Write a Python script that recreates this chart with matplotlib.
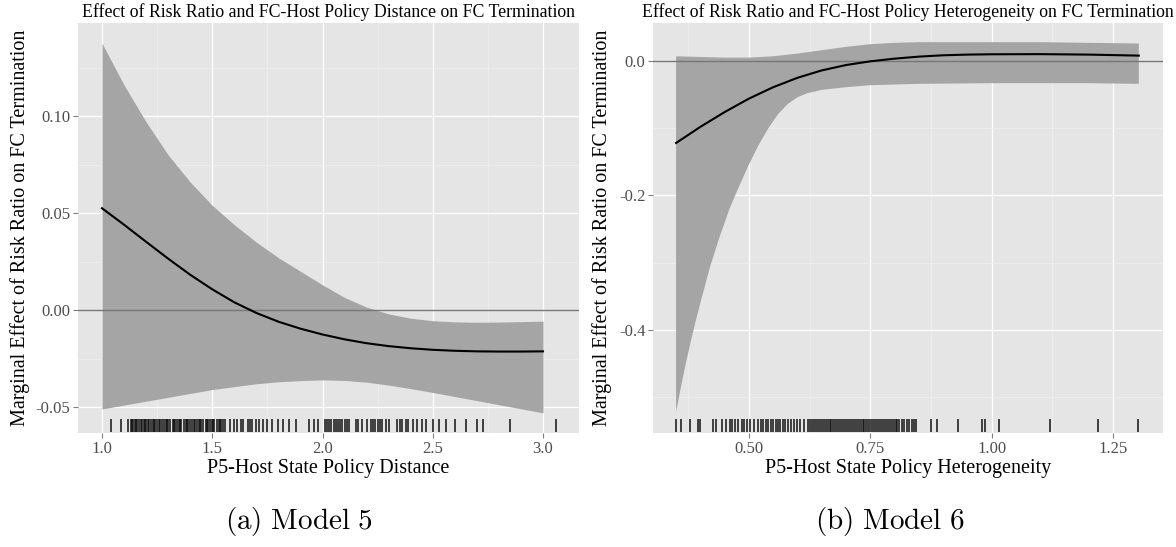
import numpy as np
import matplotlib
matplotlib.use('Agg')
import matplotlib.pyplot as plt
from matplotlib.ticker import FixedLocator

plt.rcParams['font.family'] = ['Liberation Serif', 'DejaVu Serif']
plt.rcParams['axes.unicode_minus'] = False

# ---- panel (a): Model 5, policy distance ----
dist_x = [1.0, 1.1, 1.2, 1.3, 1.4, 1.5, 1.6, 1.7, 1.8, 1.9, 2.0, 2.1,
          2.2, 2.3, 2.4, 2.5, 2.6, 2.7, 2.8, 2.9, 3.0]
dist_est = [0.0525, 0.0440, 0.0352, 0.0265, 0.0182, 0.0107, 0.0040, -0.0015,
            -0.0060, -0.0096, -0.0126, -0.0151, -0.0171, -0.0186, -0.0197,
            -0.0205, -0.0210, -0.0213, -0.0214, -0.0214, -0.0213]
dist_hi = [0.1376, 0.116, 0.097, 0.080, 0.066, 0.054, 0.044, 0.035, 0.027,
           0.020, 0.013, 0.0065, 0.0015, -0.002, -0.0042, -0.0055, -0.0061,
           -0.0063, -0.0062, -0.006, -0.0057]
dist_lo = [-0.051, -0.049, -0.047, -0.045, -0.043, -0.041, -0.0395, -0.038,
           -0.037, -0.0364, -0.036, -0.0363, -0.0372, -0.0387, -0.0405,
           -0.0425, -0.0446, -0.0467, -0.0488, -0.0509, -0.053]
dist_rug = [1.04, 1.085, 1.12, 1.13, 1.135, 1.14, 1.15, 1.155, 1.16, 1.17,
            1.175, 1.18, 1.19, 1.195, 1.2, 1.21, 1.215, 1.22, 1.23, 1.235,
            1.24, 1.25, 1.26, 1.265, 1.27, 1.28, 1.29, 1.295, 1.30, 1.31,
            1.32, 1.325, 1.33, 1.34, 1.35, 1.355, 1.36, 1.37, 1.38, 1.385,
            1.39, 1.40, 1.41, 1.415, 1.42, 1.43, 1.44, 1.445, 1.45, 1.46,
            1.47, 1.475, 1.48, 1.49, 1.50, 1.505, 1.51, 1.52, 1.53, 1.535,
            1.54, 1.55, 1.56, 1.58, 1.60, 1.61, 1.63, 1.64, 1.66, 1.67, 1.68,
            1.70, 1.71, 1.73, 1.75, 1.77, 1.80, 1.82, 1.85, 1.88, 1.94, 1.96,
            1.98, 2.01, 2.02, 2.03, 2.04, 2.05, 2.06, 2.07, 2.08, 2.09, 2.10,
            2.11, 2.12, 2.15, 2.16, 2.18, 2.20, 2.22, 2.23, 2.24, 2.25, 2.26,
            2.27, 2.29, 2.30, 2.34, 2.35, 2.36, 2.38, 2.39, 2.41, 2.43, 2.45,
            2.47, 2.50, 2.53, 2.56, 2.60, 2.65, 2.70, 2.73, 2.85, 3.06]

# ---- panel (b): Model 6, policy heterogeneity ----
het_x = [0.35, 0.40, 0.45, 0.50, 0.55, 0.60, 0.65, 0.70, 0.75, 0.80, 0.85,
         0.90, 0.95, 1.00, 1.10, 1.20, 1.303]
het_est = [-0.122, -0.098, -0.076, -0.056, -0.039, -0.025, -0.014, -0.006,
           -0.0005, 0.0035, 0.0065, 0.0085, 0.0095, 0.010, 0.0102, 0.0095,
           0.0080]
het_hi = [0.007, 0.006, 0.005, 0.005, 0.007, 0.011, 0.016, 0.021, 0.025,
          0.027, 0.028, 0.028, 0.028, 0.028, 0.028, 0.027, 0.026]
het_lo_x = [0.35, 0.36, 0.37, 0.38, 0.39, 0.40, 0.42, 0.44, 0.46, 0.48, 0.50,
            0.52, 0.54, 0.56, 0.58, 0.60, 0.62, 0.65, 0.70, 0.75, 0.85, 1.0,
            1.2, 1.303]
het_lo = [-0.522, -0.485, -0.450, -0.418, -0.388, -0.360, -0.306, -0.261,
          -0.220, -0.186, -0.154, -0.125, -0.100, -0.079, -0.064, -0.054,
          -0.048, -0.043, -0.039, -0.036, -0.034, -0.033, -0.033, -0.034]
het_rug = [0.35, 0.36, 0.378, 0.395, 0.399, 0.425, 0.433, 0.445, 0.452, 0.46,
           0.466, 0.472, 0.478, 0.485, 0.49, 0.496, 0.503, 0.51, 0.518, 0.524,
           0.53, 0.535, 0.54, 0.545, 0.55, 0.555, 0.56, 0.565, 0.57, 0.575,
           0.58, 0.586, 0.592, 0.598, 0.605, 0.614, 0.622, 0.626, 0.63, 0.634,
           0.638, 0.642, 0.646, 0.65, 0.654, 0.658, 0.662, 0.666, 0.67, 0.674,
           0.678, 0.682, 0.686, 0.69, 0.694, 0.698, 0.702, 0.706, 0.71, 0.714,
           0.718, 0.722, 0.726, 0.73, 0.734, 0.738, 0.742, 0.746, 0.75, 0.754,
           0.758, 0.762, 0.766, 0.77, 0.774, 0.778, 0.782, 0.786, 0.79, 0.794,
           0.798, 0.802, 0.806, 0.81, 0.815, 0.82, 0.825, 0.83, 0.836, 0.84,
           0.845, 0.874, 0.888, 0.93, 0.98, 0.986, 1.015, 1.12, 1.22, 1.302]

BG = '#E5E5E5'
FILL = '#A5A5A5'
TXT = '#4D4D4D'

fig = plt.figure(figsize=(11.76, 5.47), dpi=100)
ax1 = fig.add_axes([0.0663, 0.2084, 0.426, 0.7495])
ax2 = fig.add_axes([0.5553, 0.2084, 0.4337, 0.7495])


def style(ax, xmaj, xmin, ymaj, ymin):
    ax.set_facecolor(BG)
    for s in ax.spines.values():
        s.set_visible(False)
    ax.xaxis.set_major_locator(FixedLocator(xmaj))
    ax.xaxis.set_minor_locator(FixedLocator(xmin))
    ax.yaxis.set_major_locator(FixedLocator(ymaj))
    ax.yaxis.set_minor_locator(FixedLocator(ymin))
    ax.grid(which='major', color='white', lw=0.9)
    ax.grid(which='minor', color='#F0F0F0', lw=0.5)
    ax.set_axisbelow(True)
    ax.tick_params(which='major', length=3.5, width=0.8, color='#7F7F7F',
                   labelcolor=TXT, labelsize=12, pad=2)
    ax.tick_params(which='minor', length=0)


# panel (a)
ax1.fill_between(dist_x, dist_lo, dist_hi, color=FILL, lw=0)
ax1.axhline(0, color='#777777', lw=1.0)
ax1.plot(dist_x, dist_est, color='black', lw=1.5)
ax1.vlines(dist_rug, 0.003, 0.035, color='#111111', lw=1.1,
           transform=ax1.get_xaxis_transform())
ax1.set_xlim(0.891, 3.163)
ax1.set_ylim(-0.0634, 0.148)
style(ax1, [1.0, 1.5, 2.0, 2.5, 3.0], [1.25, 1.75, 2.25, 2.75],
      [-0.05, 0.0, 0.05, 0.10], [-0.025, 0.025, 0.075, 0.125])
ax1.set_xticklabels(['1.0', '1.5', '2.0', '2.5', '3.0'])
ax1.set_yticklabels(['-0.05', '0.00', '0.05', '0.10'])
ax1.set_title('Effect of Risk Ratio and FC-Host Policy Distance on FC Termination',
              fontsize=12.8, pad=4)
ax1.set_xlabel('P5-Host State Policy Distance', fontsize=14.5)
ax1.set_ylabel('Marginal Effect of Risk Ratio on FC Termination', fontsize=14.5)
ax1.xaxis.set_label_coords(0.5, -0.063)
ax1.yaxis.set_label_coords(-0.096, 0.5)

# panel (b): band outline = upper edge left->right, lower edge right->left
ax2.fill(list(het_x) + het_lo_x[::-1], list(het_hi) + het_lo[::-1],
         color=FILL, lw=0)
ax2.axhline(0, color='#777777', lw=1.0)
ax2.plot(het_x, het_est, color='black', lw=1.5)
ax2.vlines(het_rug, 0.003, 0.035, color='#111111', lw=1.1,
           transform=ax2.get_xaxis_transform())
ax2.set_xlim(0.3025, 1.353)
ax2.set_ylim(-0.5536, 0.0565)
style(ax2, [0.5, 0.75, 1.0, 1.25], [0.375, 0.625, 0.875, 1.125],
      [-0.4, -0.2, 0.0], [-0.5, -0.3, -0.1])
ax2.set_xticklabels(['0.50', '0.75', '1.00', '1.25'])
ax2.set_yticklabels(['-0.4', '-0.2', '0.0'])
ax2.set_title('Effect of Risk Ratio and FC-Host Policy Heterogeneity on FC Termination',
              fontsize=12.8, pad=4)
ax2.set_xlabel('P5-Host State Policy Heterogeneity', fontsize=14.5)
ax2.set_ylabel('Marginal Effect of Risk Ratio on FC Termination', fontsize=14.5)
ax2.xaxis.set_label_coords(0.5, -0.063)
ax2.yaxis.set_label_coords(-0.08, 0.5)

# captions
fig.text(0.254, 0.0475, r'$\mathrm{(a)\ Model\ 5}$', math_fontfamily='cm',
         fontsize=21, ha='center', va='center')
fig.text(0.757, 0.0475, r'$\mathrm{(b)\ Model\ 6}$', math_fontfamily='cm',
         fontsize=21, ha='center', va='center')

fig.savefig('out.png', dpi=100)
